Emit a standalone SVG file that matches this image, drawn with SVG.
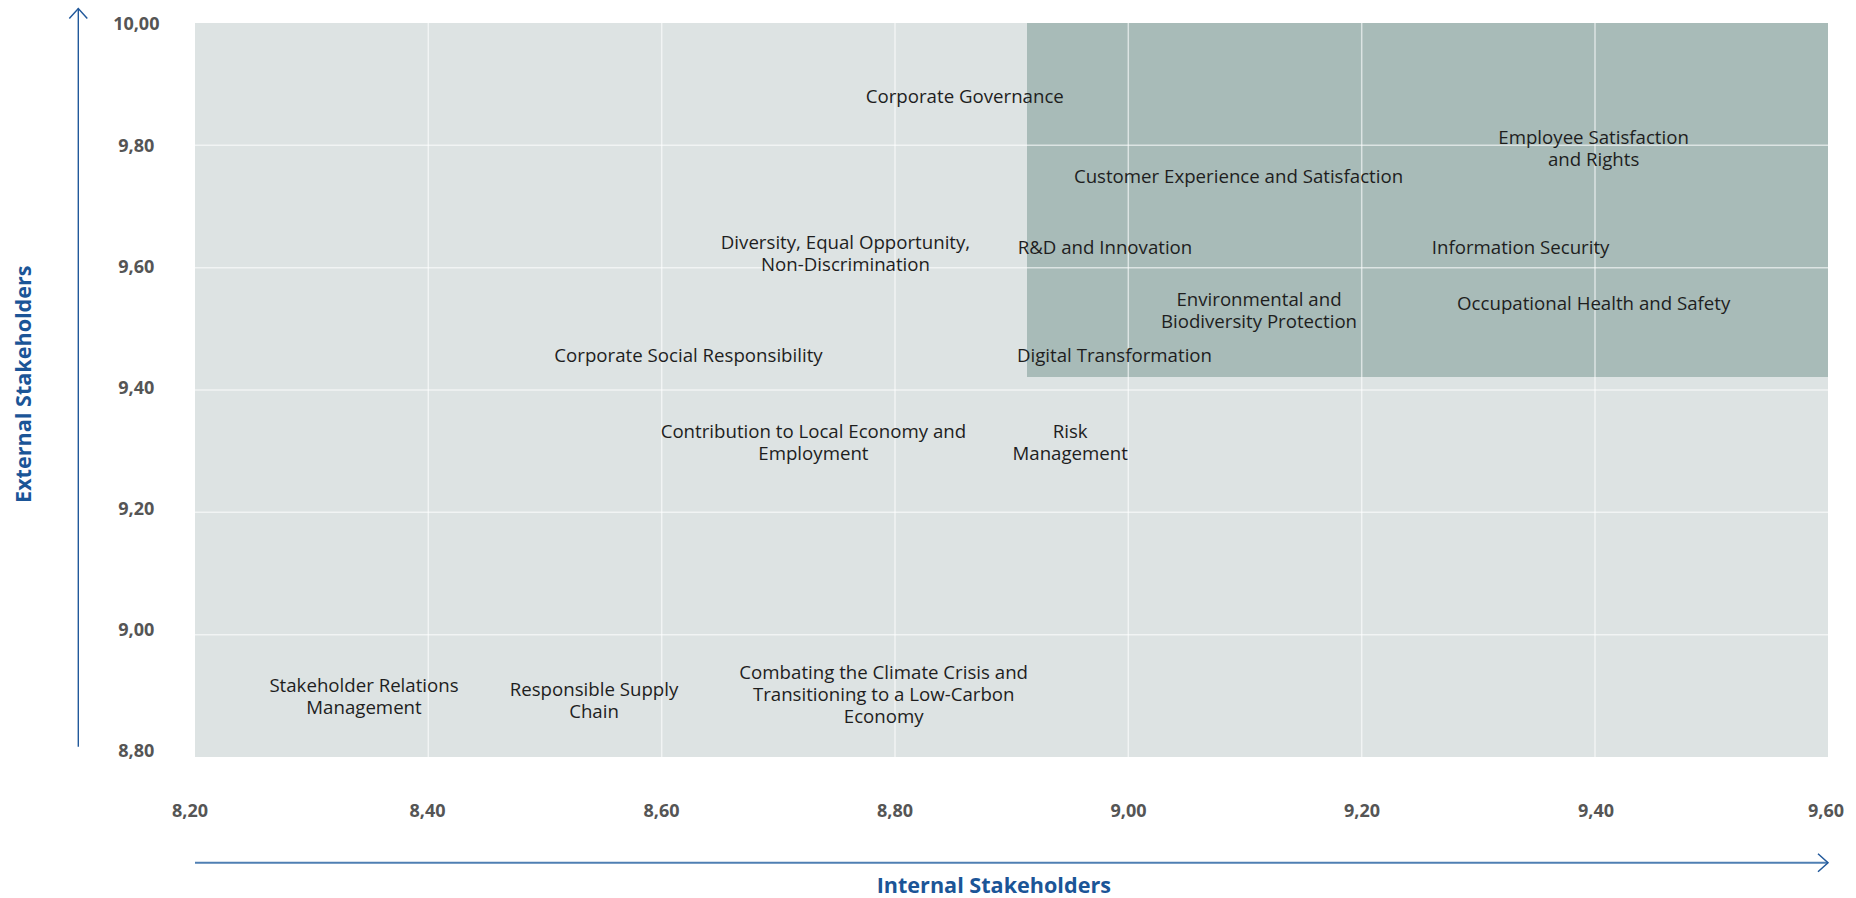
<svg xmlns="http://www.w3.org/2000/svg" width="1856" height="898" viewBox="0 0 1856 898">
<defs>
<style>
.lbl{font-family:"Open Sans","Noto Sans","Liberation Sans",sans-serif;font-size:18.67px;fill:#1e1e1e;text-anchor:middle}
.tick{font-family:"Open Sans","Noto Sans","Liberation Sans",sans-serif;font-size:18px;font-weight:bold;fill:#555555;text-anchor:middle}
.title{font-family:"Open Sans","Noto Sans","Liberation Sans",sans-serif;font-size:21.6px;font-weight:bold;fill:#1b5597;text-anchor:middle}
.grid{stroke:#ffffff;stroke-opacity:0.6;stroke-width:1.5;fill:none}
</style>
<marker id="arr" viewBox="-12 -11 14 22" markerUnits="userSpaceOnUse" markerWidth="14" markerHeight="22" refX="0" refY="0" orient="auto">
<path d="M-10,-9 L0,0 L-10,9" fill="none" stroke="#22599b" stroke-width="1.5"/>
</marker>
</defs>
<rect width="1856" height="898" fill="#ffffff"/>
<g id="plot">
<rect x="195" y="23" width="1633" height="734" fill="#dde3e3"/>
<rect x="1027" y="23" width="801" height="354" fill="#a8bbb8"/>
<g class="grid">
<line x1="428.3" y1="23" x2="428.3" y2="757"/>
<line x1="661.7" y1="23" x2="661.7" y2="757"/>
<line x1="895" y1="23" x2="895" y2="757"/>
<line x1="1128.3" y1="23" x2="1128.3" y2="757"/>
<line x1="1361.7" y1="23" x2="1361.7" y2="757"/>
<line x1="1595" y1="23" x2="1595" y2="757"/>
<line x1="195" y1="145.3" x2="1828" y2="145.3"/>
<line x1="195" y1="267.7" x2="1828" y2="267.7"/>
<line x1="195" y1="390" x2="1828" y2="390"/>
<line x1="195" y1="512.3" x2="1828" y2="512.3"/>
<line x1="195" y1="634.7" x2="1828" y2="634.7"/>
</g>
</g>
<g id="ticks">
<text class="tick" x="136.3" y="30.4">10,00</text>
<text class="tick" x="136.3" y="151.5">9,80</text>
<text class="tick" x="136.3" y="272.6">9,60</text>
<text class="tick" x="136.3" y="393.7">9,40</text>
<text class="tick" x="136.3" y="514.8">9,20</text>
<text class="tick" x="136.3" y="635.9">9,00</text>
<text class="tick" x="136.3" y="757">8,80</text>
<text class="tick" x="190" y="817.3">8,20</text>
<text class="tick" x="427.5" y="817.3">8,40</text>
<text class="tick" x="661.5" y="817.3">8,60</text>
<text class="tick" x="895" y="817.3">8,80</text>
<text class="tick" x="1128.5" y="817.3">9,00</text>
<text class="tick" x="1362" y="817.3">9,20</text>
<text class="tick" x="1596" y="817.3">9,40</text>
<text class="tick" x="1826" y="817.3">9,60</text>
</g>
<g id="connectors">
<line x1="78.3" y1="746.7" x2="78.3" y2="8.5" stroke="#22599b" stroke-width="1.4" marker-end="url(#arr)"/>
<line x1="195" y1="862.7" x2="1828" y2="862.7" stroke="#4f7fb3" stroke-width="2" marker-end="url(#arr)"/>
</g>
<g id="axis-titles">
<text class="title" transform="translate(30.5,384.2) rotate(-90)">External Stakeholders</text>
<text class="title" x="993.8" y="893.3">Internal Stakeholders</text>
</g>
<g id="n-corporate-governance"><text class="lbl" x="964.8" y="103.3">Corporate Governance</text></g>
<g id="n-employee-satisfaction"><text class="lbl" x="1593.6" y="144">Employee Satisfaction</text><text class="lbl" x="1593.6" y="166">and Rights</text></g>
<g id="n-customer-experience"><text class="lbl" x="1238.5" y="182.7">Customer Experience and Satisfaction</text></g>
<g id="n-diversity"><text class="lbl" x="845.5" y="248.5">Diversity, Equal Opportunity,</text><text class="lbl" x="845.5" y="270.5">Non-Discrimination</text></g>
<g id="n-rnd"><text class="lbl" x="1105" y="254">R&amp;D and Innovation</text></g>
<g id="n-information-security"><text class="lbl" x="1520.6" y="253.5">Information Security</text></g>
<g id="n-environmental"><text class="lbl" x="1259" y="306">Environmental and</text><text class="lbl" x="1259" y="328">Biodiversity Protection</text></g>
<g id="n-ohs"><text class="lbl" x="1593.7" y="310">Occupational Health and Safety</text></g>
<g id="n-csr"><text class="lbl" x="688.5" y="361.7">Corporate Social Responsibility</text></g>
<g id="n-digital"><text class="lbl" x="1114.5" y="361.5">Digital Transformation</text></g>
<g id="n-local-economy"><text class="lbl" x="813.4" y="437.7">Contribution to Local Economy and</text><text class="lbl" x="813.4" y="460">Employment</text></g>
<g id="n-risk"><text class="lbl" x="1070.2" y="437.7">Risk</text><text class="lbl" x="1070.2" y="460">Management</text></g>
<g id="n-stakeholder-relations"><text class="lbl" x="364" y="691.7">Stakeholder Relations</text><text class="lbl" x="364" y="713.5">Management</text></g>
<g id="n-supply-chain"><text class="lbl" x="594" y="696">Responsible Supply</text><text class="lbl" x="594" y="718.3">Chain</text></g>
<g id="n-climate"><text class="lbl" x="883.7" y="678.7">Combating the Climate Crisis and</text><text class="lbl" x="883.7" y="701">Transitioning to a Low-Carbon</text><text class="lbl" x="883.7" y="723.3">Economy</text></g>
</svg>
